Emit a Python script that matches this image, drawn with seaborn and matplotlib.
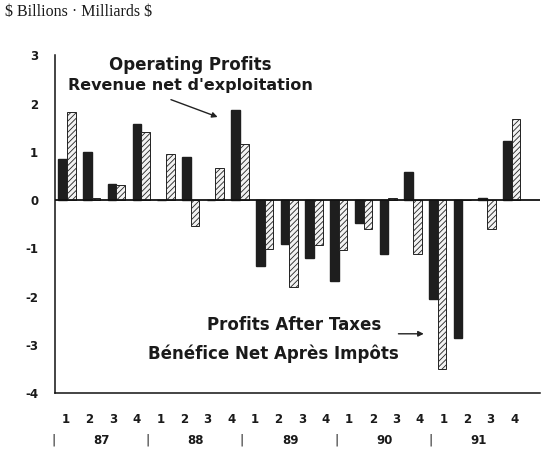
import numpy as np
import pandas as pd
import matplotlib
matplotlib.use("Agg")
import matplotlib.pyplot as plt
import seaborn as sns

# quarterly data, 1987 Q1 - 1991 Q4 ($ billions)
quarters = ["1", "2", "3", "4"] * 5
years = ["87", "88", "89", "90", "91"]
periods = [y + "Q" + q for y in years for q in ["1", "2", "3", "4"]]
operating = [0.85, 1.0, 0.33, 1.58, 0.0, 0.89, 0.0, 1.87,
             -1.36, -0.92, -1.21, -1.67, -0.47, -1.11, 0.59, -2.05,
             -2.85, 0.04, 1.23, np.nan]
after_tax = [1.82, 0.05, 0.32, 1.40, 0.96, -0.54, 0.66, 1.16,
             -1.02, -1.81, -0.94, -1.03, -0.59, 0.04, -1.11, -3.49,
             0.0, -0.59, 1.67, np.nan]

df = pd.DataFrame({
    "period": periods * 2,
    "value": operating + after_tax,
    "series": ["Operating"] * 20 + ["After taxes"] * 20,
})

sns.set_style("white")
plt.rcParams["font.family"] = ["DejaVu Sans"]
plt.rcParams["hatch.linewidth"] = 0.6
plt.rcParams["text.color"] = "#1a1a1a"
plt.rcParams["xtick.color"] = "#1a1a1a"
plt.rcParams["ytick.color"] = "#1a1a1a"

fig = plt.figure(figsize=(5.44, 4.72), dpi=100)
ax = fig.add_axes([0.101, 0.167, 0.892, 0.716])

sns.barplot(data=df, x="period", y="value", hue="series", order=periods,
            palette=["#1e1e1e", "#f2f2f2"], width=0.7, ax=ax,
            legend=False, saturation=1)

# hatch the after-tax bars
for bar in ax.containers[1]:
    bar.set_hatch("//////")
    bar.set_edgecolor("#222222")
    bar.set_linewidth(0.7)
for bar in ax.containers[0]:
    bar.set_edgecolor("#1e1e1e")

ax.axhline(0, color="#111111", lw=1.3, zorder=5)
ax.set_ylim(-4, 3)
ax.set_xlim(-0.49, 19.15)

# y axis
ax.set_yticks(range(-4, 4))
ax.set_yticklabels(["-4", "-3", "-2", "-1", "0", "1", "2", "3"],
                   fontweight="bold", fontsize=8.5)
ax.tick_params(axis="y", direction="out", length=7, width=1, pad=5)

# x axis: quarter labels (slightly tighter spacing than the bars)
qpos = -0.04 + 0.9547 * np.arange(20)
ax.set_xticks(qpos)
ax.set_xticklabels(quarters, fontweight="bold", fontsize=8.5)
ax.tick_params(axis="x", direction="out", length=4, width=1, pad=10)
ax.set_xlabel("")
ax.set_ylabel("")

for s in ["top", "right"]:
    ax.spines[s].set_visible(False)
for s in ["left", "bottom"]:
    ax.spines[s].set_color("#111111")
    ax.spines[s].set_linewidth(1.1)

# year row
trans = ax.get_xaxis_transform()
for i, yr in enumerate(years):
    ax.text(-0.04 + 0.9547 * (4 * i + 1.5), -0.139, yr, transform=trans,
            ha="center", va="center", fontweight="bold", fontsize=8.5,
            clip_on=False)
    ax.text(-0.04 + 0.9547 * (4 * i - 0.55), -0.139, "|", transform=trans,
            ha="center", va="center", fontsize=9, clip_on=False)

# annotations
ax.text(4.98, 2.79, "Operating Profits", ha="center", va="center",
        fontweight="bold", fontsize=12)
ax.text(4.98, 2.38, "Revenue net d'exploitation", ha="center", va="center",
        fontweight="bold", fontsize=11.5)
ax.annotate("", xy=(6.2, 1.7), xytext=(4.1, 2.1),
            arrowprops=dict(arrowstyle="-|>", color="#222222", lw=1,
                            mutation_scale=8))

ax.text(9.2, -2.58, "Profits After Taxes", ha="center", va="center",
        fontweight="bold", fontsize=12)
ax.text(8.35, -3.19, "Bénéfice Net Après Impôts", ha="center", va="center",
        fontweight="bold", fontsize=12)
ax.annotate("", xy=(14.55, -2.77), xytext=(13.3, -2.77),
            arrowprops=dict(arrowstyle="-|>", color="#222222", lw=1,
                            mutation_scale=8))

fig.text(0.01, 0.975, r"\$ Billions · Milliards \$", ha="left", va="center",
         fontsize=11.5, family=["Liberation Serif", "DejaVu Serif"])

fig.savefig("out.png", dpi=100)
